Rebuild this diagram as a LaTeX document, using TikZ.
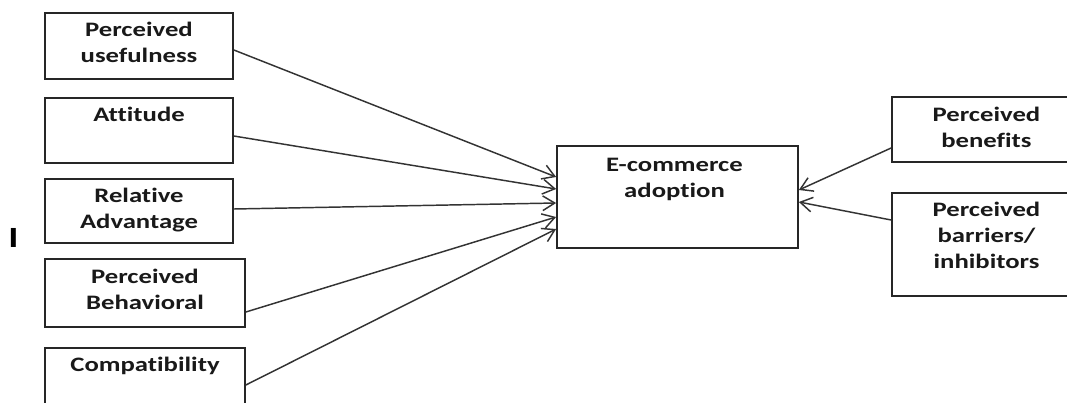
\documentclass[tikz,border=0pt]{standalone}
\usepackage{fontspec}
\setmainfont[FakeStretch=1.3,Ligatures=NoCommon]{Carlito}
\usetikzlibrary{arrows.meta,fit,calc}
\tikzset{
  boxst/.style={draw=black!85, line width=1.3pt, inner sep=0pt, rectangle},
  lbl/.style={anchor=base, text width=170pt, align=center, inner sep=0pt,
    font=\fontsize{15.4}{19.5}\selectfont\bfseries, text=black!90},
  arr/.style={draw=black!80, line width=1.1pt, -{Straight Barb[length=9pt,width=11pt]}}
}
\begin{document}
\begin{tikzpicture}[x=0.75pt,y=-0.75pt]
\useasboundingbox (0,0) rectangle (1067,403);
% left boxes
\node[boxst, fit={(45,13) (233,79)}] (pu) {};
\node[boxst, fit={(45,98) (233,163)}] (at) {};
\node[boxst, fit={(45,179) (233,243)}] (ra) {};
\node[boxst, fit={(45,259) (245,327)}] (pb) {};
\node[boxst, fit={(45,348) (245,414)}] (co) {};
% centre box
\node[boxst, fit={(557,146) (798,248)}] (ec) {};
% right boxes
\node[boxst, fit={(892,97) (1081,162)}] (pbn) {};
\node[boxst, fit={(892,193) (1081,296)}] (pbr) {};
% labels
\node[lbl] (pu-t) at ($(pu.north)+(0,24)$) {Perceived\\usefulness};
\node[lbl] (at-t) at ($(at.north)+(0,24)$) {Attitude};
\node[lbl] (ra-t) at ($(ra.north)+(0,24)$) {Relative\\Advantage};
\node[lbl] (pb-t) at ($(pb.north)+(0,25)$) {Perceived\\Behavioral};
\node[lbl] (co-t) at ($(co.north)+(0,24)$) {Compatibility};
\node[lbl] (ec-t) at ($(ec.north)+(-3,26)$) {E-commerce\\adoption};
\node[lbl] (pbn-t) at ($(pbn.north)+(0,25)$) {Perceived\\benefits};
\node[lbl] (pbr-t) at ($(pbr.north)+(0,24)$) {Perceived\\barriers/\\inhibitors};
% stray mark
\node[anchor=base, inner sep=0pt, font=\fontsize{22}{26}\selectfont\bfseries] (mark) at (13.5,247) {I};
% connectors
\draw[arr] (pu.east |- 0,50) -- (ec.west |- 0,177);
\draw[arr] (at.east |- 0,136) -- (ec.west |- 0,189);
\draw[arr] (ra.east |- 0,209) -- (ec.west |- 0,203);
\draw[arr] (pb.east |- 0,312) -- (ec.west |- 0,217);
\draw[arr] (co.east |- 0,385) -- (ec.west |- 0,229);
\draw[arr] (pbn.west |- 0,148) -- (ec.east |- 0,190);
\draw[arr] (pbr.west |- 0,220) -- (ec.east |- 0,202);
\end{tikzpicture}
\end{document}
